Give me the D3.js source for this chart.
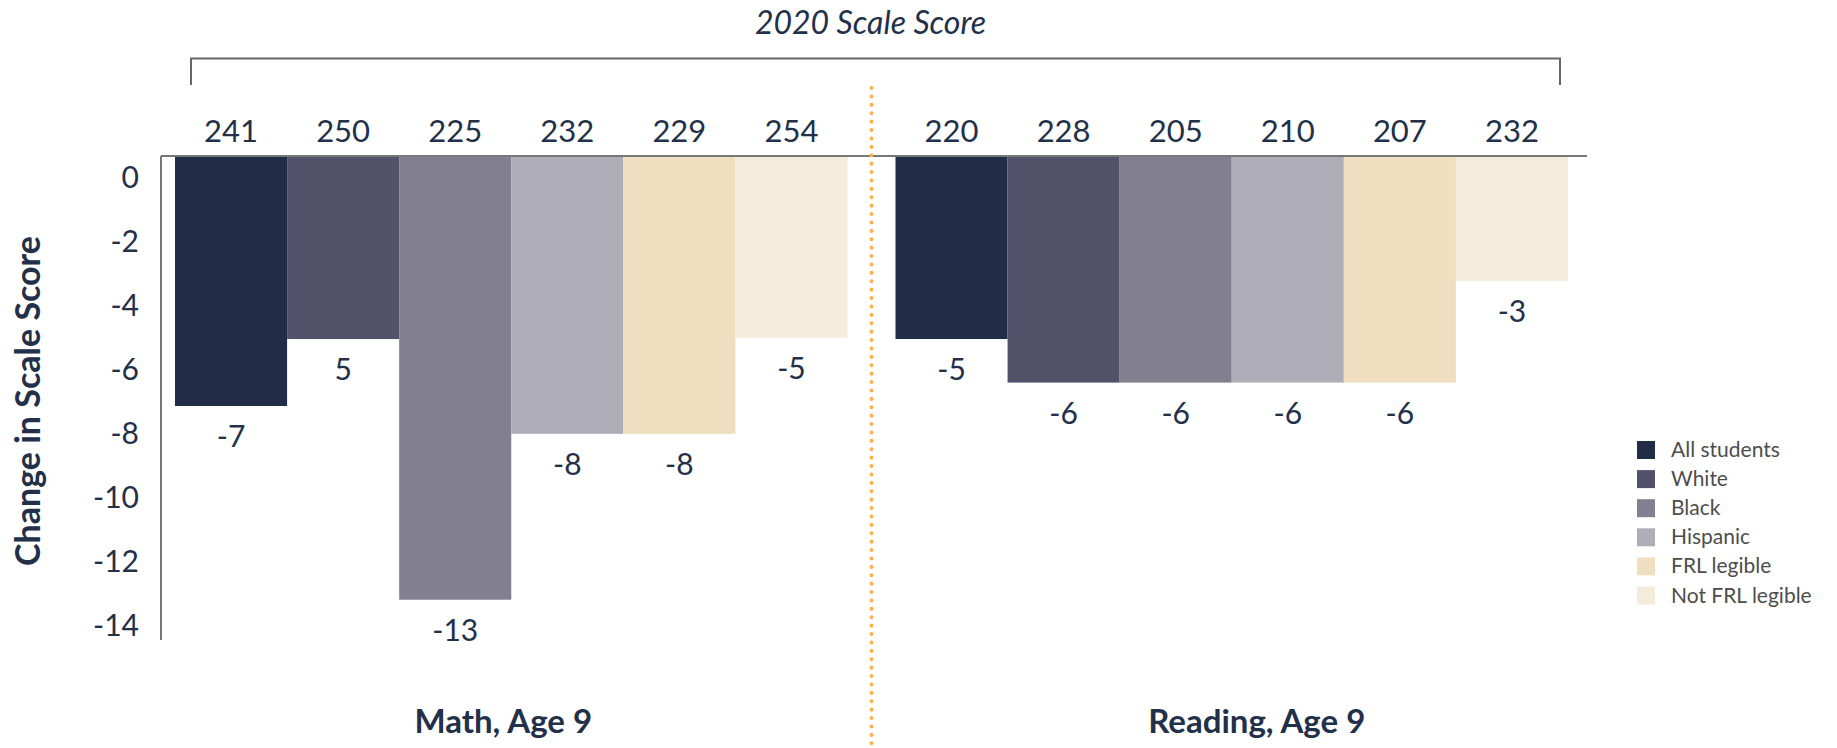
<!DOCTYPE html>
<html lang="en">
<head>
<meta charset="utf-8">
<title>2020 Scale Score change</title>
<script src="https://cdn.jsdelivr.net/npm/d3@7"></script>
<style>
  body { margin: 0; background: #fff; }
  text { font-family: Lato, "Noto Sans", sans-serif; fill: #22304a; }
</style>
</head>
<body>
<div id="chart"></div>
<script>
// data
var groups = ["Math, Age 9", "Reading, Age 9"];
var subgroups = ["All students", "White", "Black", "Hispanic", "FRL legible", "Not FRL legible"];
var mathChange = [-7.16, -5.07, -13.21, -8.03, -8.03, -5.03];
var readingChange = [-5.07, -6.43, -6.43, -6.43, -6.43, -3.25];
var mathLabels = ["-7", "5", "-13", "-8", "-8", "-5"];
var readingLabels = ["-5", "-6", "-6", "-6", "-6", "-3"];
var mathScore = [241, 250, 225, 232, 229, 254];
var readingScore = [220, 228, 205, 210, 207, 232];
var yTicks = [0, -2, -4, -6, -8, -10, -12, -14];
var colors = ["#212c47", "#52526a", "#827f91", "#afaeb8", "#efdec0", "#f5ebdb"];

var width = 1837, height = 748
var axisY = 156, axisLeft = 161, axisRight = 1587

var svg = d3.select("#chart").append("svg")
    .attr("width", width)
    .attr("height", height)

var rows = []
var changes = [mathChange, readingChange]
var labels = [mathLabels, readingLabels]
var scores = [mathScore, readingScore]
groups.forEach(function(g, i) {
    subgroups.forEach(function(s, j) {
        rows.push({ group: g, key: s, value: changes[i][j], label: labels[i][j], score: scores[i][j] })
    })
})

var x0 = d3.scaleBand().domain(groups).range([175, 1568]).paddingInner(0.0666).paddingOuter(0)
var x1 = d3.scaleBand().domain(subgroups).range([0, x0.bandwidth()]).padding(0)
var y = d3.scaleLinear().domain([0, -14]).range([176.7, 625])
var color = d3.scaleOrdinal().domain(subgroups).range(colors)

// bars
svg.append("g").selectAll("rect")
    .data(rows)
    .enter().append("rect")
    .attr("x", function(d) { return x0(d.group) + x1(d.key) })
    .attr("y", axisY)
    .attr("width", x1.bandwidth())
    .attr("height", function(d) { return y(d.value) - axisY })
    .attr("fill", function(d) { return color(d.key) })

// value labels under bars
svg.append("g").selectAll("text")
    .data(rows)
    .enter().append("text")
    .attr("x", function(d) { return x0(d.group) + x1(d.key) + x1.bandwidth() / 2 })
    .attr("y", function(d) { return y(d.value) + 41 })
    .attr("text-anchor", "middle")
    .style("font-size", "30px")
    .text(function(d) { return d.label })

// 2020 scores above bars
svg.append("g").selectAll("text")
    .data(rows)
    .enter().append("text")
    .attr("x", function(d) { return x0(d.group) + x1(d.key) + x1.bandwidth() / 2 })
    .attr("y", 142)
    .attr("text-anchor", "middle")
    .style("font-size", "31px")
    .text(function(d) { return d.score })

// y axis
var yAxis = d3.axisLeft(y).tickValues(yTicks).tickSize(0).tickPadding(0)
    .tickFormat(function(d) { return String(d) })
var ya = svg.append("g").attr("transform", "translate(139,0)").call(yAxis)
ya.select(".domain").remove()
ya.selectAll("text")
    .style("font-size", "30px")
    .style("font-family", "Lato, sans-serif")
    .attr("fill", "#22304a")
    .attr("dy", "0.36em")

svg.append("line")
    .attr("x1", axisLeft).attr("x2", axisLeft)
    .attr("y1", axisY).attr("y2", 640)
    .attr("stroke", "#777").attr("stroke-width", 2)
svg.append("line")
    .attr("x1", axisLeft).attr("x2", axisRight)
    .attr("y1", axisY).attr("y2", axisY)
    .attr("stroke", "#777").attr("stroke-width", 2)

svg.append("text")
    .attr("transform", "translate(40,401) rotate(-90)")
    .attr("text-anchor", "middle")
    .style("font-size", "34px")
    .style("font-weight", "bold")
    .text("Change in Scale Score")

// group labels
var groupDx = [-8, 25]
svg.append("g").selectAll("text")
    .data(groups)
    .enter().append("text")
    .attr("x", function(d, i) { return x0(d) + x0.bandwidth() / 2 + groupDx[i] })
    .attr("y", 733)
    .attr("text-anchor", "middle")
    .style("font-size", "33px")
    .style("font-weight", "bold")
    .text(function(d) { return d })

// separator between the groups
var sepX = (x0(groups[0]) + x0.bandwidth() + x0(groups[1])) / 2
svg.append("line")
    .attr("x1", sepX).attr("x2", sepX)
    .attr("y1", 88).attr("y2", height)
    .attr("stroke", "#f9b44e").attr("stroke-width", 4)
    .attr("stroke-linecap", "round")
    .attr("stroke-dasharray", "0.1 8.3")

// bracket + title
svg.append("path")
    .attr("d", "M191,85 V58.5 H1560 V85")
    .attr("fill", "none").attr("stroke", "#666").attr("stroke-width", 2)
svg.append("text")
    .attr("x", sepX - 1).attr("y", 34)
    .attr("text-anchor", "middle")
    .style("font-size", "32px")
    .style("font-style", "italic")
    .text("2020 Scale Score")

// legend
var legend = svg.append("g").selectAll("g")
    .data(subgroups)
    .enter().append("g")
    .attr("transform", function(d, i) { return "translate(1637," + (441 + i * 29.1) + ")" })
legend.append("rect")
    .attr("width", 18).attr("height", 18)
    .attr("fill", function(d) { return color(d) })
legend.append("text")
    .attr("x", 34).attr("y", 16)
    .style("font-size", "21px")
    .style("fill", "#4d4d4d")
    .text(function(d) { return d })
</script>
</body>
</html>
